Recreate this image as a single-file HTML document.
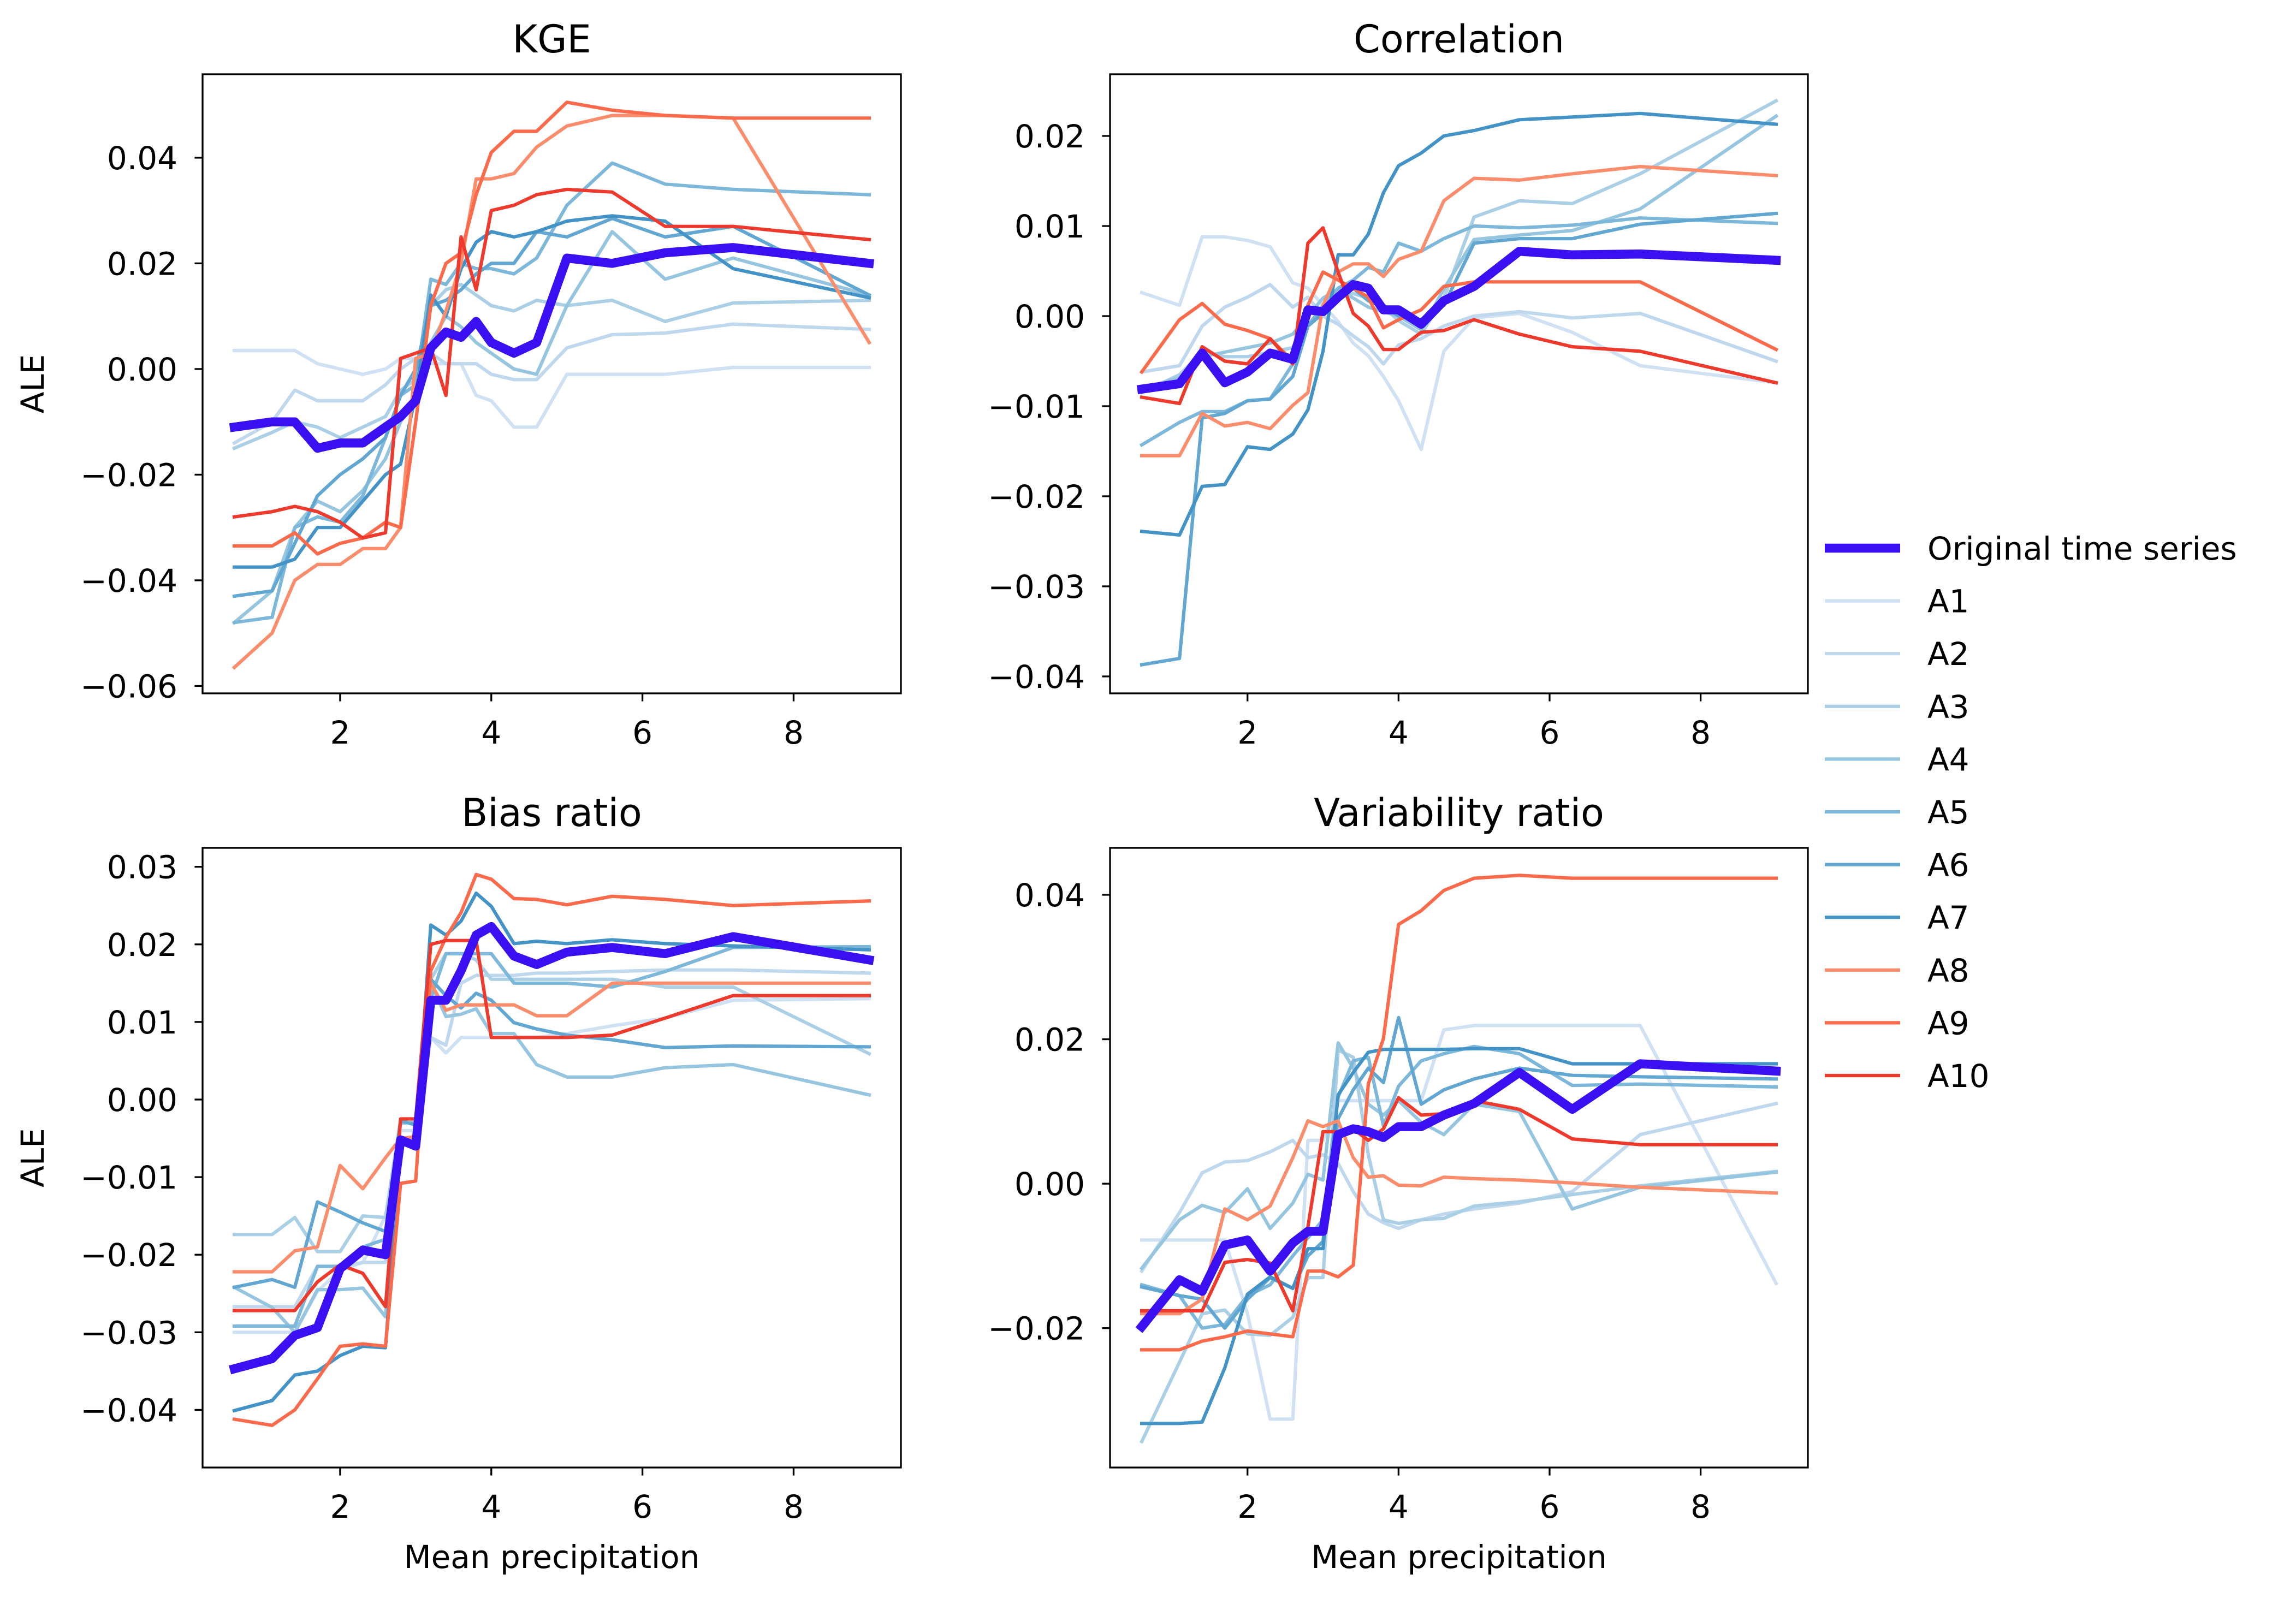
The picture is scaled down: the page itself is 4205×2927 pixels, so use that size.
<!DOCTYPE html>
<html><head><meta charset="utf-8">
<style>
html,body{margin:0;padding:0;background:#fff;}
svg{display:block;font-family:"DejaVu Sans","Liberation Sans",sans-serif;}
</style></head>
<body>
<svg id="fig" xmlns="http://www.w3.org/2000/svg" width="4205" height="2927" viewBox="0 0 4205 2927">
<rect width="4205" height="2927" fill="#fff"/>
</svg>
<script>
const X = [0.6,1.1,1.4,1.7,2.0,2.3,2.6,2.8,3.0,3.2,3.4,3.6,3.8,4.0,4.3,4.6,5.0,5.6,6.3,7.2,9.0];
const seriesNames = ["A1","A2","A3","A4","A5","A6","A7","A8","A9","A10"];
const xTicks = [2,4,6,8];

// KGE
const kgeOrig = [-0.011,-0.010,-0.010,-0.015,-0.014,-0.014,-0.011,-0.009,-0.006,0.004,0.007,0.006,0.009,0.005,0.003,0.005,0.021,0.020,0.022,0.023,0.020];
const kgeA1 = [0.0035,0.0035,0.0035,0.001,0.000,-0.001,0.000,0.002,0.002,0.001,0.001,0.001,-0.005,-0.006,-0.011,-0.011,-0.001,-0.001,-0.001,0.0003,0.0003];
const kgeA2 = [-0.014,-0.010,-0.004,-0.006,-0.006,-0.006,-0.003,0.000,0.002,0.003,0.001,0.001,0.001,-0.001,-0.002,-0.002,0.004,0.0065,0.0068,0.0085,0.0075];
const kgeA3 = [-0.015,-0.012,-0.010,-0.011,-0.013,-0.011,-0.009,-0.004,-0.002,0.012,0.015,0.016,0.014,0.012,0.011,0.013,0.012,0.013,0.009,0.0125,0.013];
const kgeA4 = [-0.048,-0.042,-0.030,-0.025,-0.027,-0.023,-0.017,-0.010,-0.005,0.005,0.010,0.008,0.005,0.003,0.000,-0.001,0.012,0.026,0.017,0.021,0.014];
const kgeA5 = [-0.048,-0.047,-0.030,-0.028,-0.029,-0.024,-0.013,-0.005,-0.003,0.017,0.016,0.020,0.019,0.019,0.018,0.021,0.031,0.039,0.035,0.034,0.033];
const kgeA6 = [-0.043,-0.042,-0.033,-0.024,-0.020,-0.017,-0.013,-0.005,0.000,0.012,0.013,0.015,0.018,0.020,0.020,0.026,0.025,0.0285,0.025,0.027,0.014];
const kgeA7 = [-0.0375,-0.0375,-0.036,-0.030,-0.030,-0.025,-0.020,-0.018,-0.005,0.014,0.010,0.019,0.024,0.026,0.025,0.026,0.028,0.029,0.028,0.019,0.0135];
const kgeA8 = [-0.0565,-0.050,-0.040,-0.037,-0.037,-0.034,-0.034,-0.030,0.002,0.003,0.011,0.020,0.036,0.036,0.037,0.042,0.046,0.048,0.048,0.0475,0.005];
const kgeA9 = [-0.0335,-0.0335,-0.031,-0.035,-0.033,-0.032,-0.029,-0.030,-0.010,0.012,0.020,0.022,0.033,0.041,0.045,0.045,0.0505,0.049,0.048,0.0475,0.0475];
const kgeA10 = [-0.028,-0.027,-0.026,-0.027,-0.029,-0.032,-0.031,0.002,0.003,0.004,-0.005,0.025,0.015,0.030,0.031,0.033,0.034,0.0335,0.027,0.027,0.0245];

// Correlation
const corOrig = [-0.0081,-0.0075,-0.0041,-0.0074,-0.0062,-0.0041,-0.0048,0.0007,0.0005,0.0021,0.0035,0.0031,0.0007,0.0007,-0.0009,0.0017,0.0033,0.0072,0.0068,0.0069,0.0062];
const corA1 = [0.0026,0.0012,0.0088,0.0088,0.0084,0.0077,0.0037,0.0031,0.0012,-0.0006,-0.003,-0.0044,-0.0067,-0.0094,-0.0148,-0.0039,-0.0002,0.0003,-0.0018,-0.0055,-0.0074];
const corA2 = [-0.0062,-0.0055,-0.0011,0.0010,0.0021,0.0035,0.0010,0.0021,0.0000,-0.0009,-0.0022,-0.0034,-0.0053,-0.0032,-0.0025,-0.0011,0.0,0.0005,-0.0002,0.0003,-0.005];
const corA3 = [-0.0085,-0.0065,-0.004,-0.0045,-0.0045,-0.004,-0.0035,-0.001,0.001,0.002,0.0025,0.002,0.001,-0.0005,-0.002,0.002,0.011,0.0128,0.0125,0.0158,0.0239];
const corA4 = [-0.0081,-0.0068,-0.0045,-0.004,-0.0035,-0.003,-0.002,0.0,0.002,0.003,0.002,0.001,0.0005,0.0,-0.0015,0.003,0.0085,0.009,0.0095,0.0119,0.0222];
const corA5 = [-0.0143,-0.0118,-0.0106,-0.0106,-0.0094,-0.0092,-0.0053,-0.0011,0.0012,0.0031,0.004,0.0054,0.0049,0.0081,0.0072,0.0086,0.01,0.0098,0.0101,0.0109,0.0103];
const corA6 = [-0.0387,-0.038,-0.0113,-0.0108,-0.0094,-0.0092,-0.0067,-0.0011,0.0003,0.0021,0.0031,0.0017,0.0012,0.0,-0.0004,0.0012,0.0081,0.0086,0.0086,0.0102,0.0114];
const corA7 = [-0.0239,-0.0243,-0.0189,-0.0187,-0.0145,-0.0148,-0.0131,-0.0104,-0.0039,0.0068,0.0068,0.0091,0.0137,0.0167,0.0181,0.020,0.0206,0.0218,0.0221,0.0225,0.0213];
const corA8 = [-0.0155,-0.0155,-0.0108,-0.0122,-0.0118,-0.0125,-0.0099,-0.0085,0.0012,0.0049,0.0058,0.0058,0.0044,0.0063,0.0072,0.0128,0.0153,0.0151,0.0158,0.0166,0.0156];
const corA9 = [-0.0062,-0.0004,0.0014,-0.0009,-0.0016,-0.0025,-0.005,0.0012,0.0049,0.004,0.0031,0.0021,-0.0013,-0.0004,0.0007,0.0033,0.0038,0.0038,0.0038,0.0038,-0.0037];
const corA10 = [-0.009,-0.0097,-0.0034,-0.005,-0.0053,-0.0025,-0.0053,0.0081,0.0098,0.0049,0.0003,-0.0011,-0.0037,-0.0037,-0.0018,-0.0016,-0.0004,-0.002,-0.0034,-0.0039,-0.0074];

// Bias ratio
const biaOrig = [-0.0347,-0.0334,-0.0304,-0.0294,-0.0218,-0.0194,-0.020,-0.0052,-0.006,0.0128,0.0128,0.0166,0.0212,0.0223,0.0185,0.0174,0.019,0.0196,0.0188,0.021,0.018];
const biaA1 = [-0.030,-0.030,-0.030,-0.0247,-0.022,-0.021,-0.015,-0.004,-0.004,0.008,0.006,0.008,0.008,0.008,0.008,0.008,0.0085,0.0095,0.0105,0.0128,0.013];
const biaA2 = [-0.0267,-0.0267,-0.0267,-0.0215,-0.0215,-0.0210,-0.0210,-0.005,-0.005,0.008,0.007,0.015,0.016,0.016,0.0160,0.0163,0.0163,0.0165,0.0167,0.0167,0.0163];
const biaA3 = [-0.0174,-0.0174,-0.0152,-0.0196,-0.0196,-0.015,-0.0152,-0.0025,-0.0025,0.0155,0.0188,0.0188,0.018,0.0155,0.0155,0.0155,0.0155,0.0155,0.0145,0.0145,0.0059];
const biaA4 = [-0.0242,-0.0268,-0.0300,-0.0245,-0.0245,-0.0243,-0.0280,-0.0052,-0.006,0.015,0.0107,0.011,0.0117,0.0085,0.0085,0.0045,0.0029,0.0029,0.0041,0.0045,0.0006];
const biaA5 = [-0.0292,-0.0292,-0.0292,-0.0215,-0.0215,-0.019,-0.018,-0.003,-0.003,0.013,0.0188,0.0188,0.0188,0.0188,0.015,0.015,0.015,0.0145,0.0165,0.0196,0.0197];
const biaA6 = [-0.0242,-0.0232,-0.0242,-0.0132,-0.0145,-0.0159,-0.017,-0.0027,-0.0033,0.0155,0.0134,0.0118,0.0137,0.0128,0.0099,0.0091,0.0083,0.0077,0.0067,0.0069,0.0068];
const biaA7 = [-0.0401,-0.0388,-0.0355,-0.035,-0.033,-0.0318,-0.032,-0.006,-0.0054,0.0225,0.0212,0.023,0.0266,0.0249,0.0201,0.0204,0.0201,0.0206,0.0201,0.0198,0.0193];
const biaA8 = [-0.0222,-0.0222,-0.0195,-0.019,-0.0085,-0.0115,-0.0075,-0.005,-0.0048,0.015,0.0115,0.0122,0.0122,0.0122,0.0122,0.0108,0.0108,0.015,0.015,0.015,0.015];
const biaA9 = [-0.0412,-0.042,-0.040,-0.036,-0.0318,-0.0315,-0.0318,-0.0108,-0.0105,0.0166,0.0209,0.0241,0.029,0.0284,0.0259,0.0258,0.0251,0.0262,0.0258,0.025,0.0256];
const biaA10 = [-0.0272,-0.0272,-0.0272,-0.0235,-0.0213,-0.0224,-0.0267,-0.0025,-0.0025,0.020,0.0205,0.0205,0.0205,0.008,0.008,0.008,0.008,0.0083,0.0105,0.0134,0.0134];

// Variability ratio
const varOrig = [-0.0198,-0.0133,-0.0149,-0.0085,-0.0078,-0.0121,-0.0082,-0.0066,-0.0066,0.0068,0.0076,0.0072,0.0064,0.0079,0.0079,0.0095,0.0111,0.0154,0.0103,0.0166,0.0156];
const varA1 = [-0.0078,-0.0078,-0.0078,-0.0078,-0.0180,-0.0326,-0.0326,0.0060,0.0060,0.0115,0.0115,0.0115,0.0115,0.0115,0.0115,0.0213,0.0219,0.0219,0.0219,0.0219,-0.0138];
const varA2 = [-0.0121,-0.004,0.0015,0.0030,0.0032,0.0044,0.006,0.0036,0.004,0.0028,-0.0011,-0.0042,-0.0054,-0.0062,-0.0050,-0.0042,-0.0035,-0.0027,-0.0011,0.0068,0.0111];
const varA3 = [-0.0357,-0.0247,-0.018,-0.0175,-0.0208,-0.021,-0.0185,-0.013,-0.013,0.0185,0.0175,0.004,-0.005,-0.0055,-0.005,-0.0048,-0.0031,-0.0025,-0.0015,-0.0003,0.0017];
const varA4 = [-0.0117,-0.005,-0.003,-0.004,-0.0007,-0.0062,-0.0027,0.0013,0.0005,0.0195,0.0160,0.0110,0.0095,0.0115,0.0085,0.0068,0.0110,0.0100,-0.0035,-0.0005,0.0016];
const varA5 = [-0.014,-0.0155,-0.0200,-0.0195,-0.0155,-0.0140,-0.0100,-0.0075,-0.0050,0.0120,0.0170,0.0175,0.0080,0.0135,0.0170,0.0180,0.0190,0.0180,0.0136,0.0138,0.0134];
const varA6 = [-0.0143,-0.0155,-0.0160,-0.0200,-0.0160,-0.0130,-0.0145,-0.0100,-0.0080,0.0090,0.0130,0.0160,0.0140,0.0230,0.0110,0.0130,0.0145,0.0160,0.0150,0.0148,0.0145];
const varA7 = [-0.0332,-0.0332,-0.0330,-0.0255,-0.0153,-0.0129,-0.0145,-0.009,-0.009,0.0123,0.0154,0.0182,0.0186,0.0186,0.0186,0.0186,0.0187,0.0187,0.0166,0.0166,0.0166];
const varA8 = [-0.018,-0.018,-0.016,-0.0035,-0.005,-0.0031,0.0036,0.0087,0.0079,0.0087,0.0036,0.0009,0.0011,-0.0002,-0.0003,0.0009,0.0007,0.0005,0.0001,-0.0005,-0.0013];
const varA9 = [-0.023,-0.023,-0.0218,-0.0212,-0.0204,-0.0208,-0.0212,-0.0121,-0.0121,-0.0129,-0.0113,0.0138,0.0201,0.0359,0.0378,0.0406,0.0423,0.0427,0.0423,0.0423,0.0423];
const varA10 = [-0.0176,-0.0176,-0.0176,-0.0109,-0.0105,-0.0110,-0.0176,-0.0060,0.0072,0.0072,0.0076,0.0060,0.0076,0.0119,0.0095,0.0097,0.0115,0.0103,0.0062,0.0054,0.0054];

const kgeTicks = [-0.06,-0.04,-0.02,0.00,0.02,0.04];
const corTicks = [-0.04,-0.03,-0.02,-0.01,0.00,0.01,0.02];
const biaTicks = [-0.04,-0.03,-0.02,-0.01,0.00,0.01,0.02,0.03];
const varTicks = [-0.02,0.00,0.02,0.04];

const colors = ["#cfe1f2","#bfd8ed","#abd0e6","#96c5e0","#7db8da","#61a7d2","#4493c7","#fc8d6c","#fb6b4b","#ee3a2c"];
const origColor = "#3a10f2";
const NS = "http://www.w3.org/2000/svg";
const svg = document.getElementById("fig");
const TICKFS = 58, TITLEFS = 70;

function mk(tag, attrs, parent){
  const e = document.createElementNS(NS, tag);
  for (const k in attrs) e.setAttribute(k, attrs[k]);
  (parent||svg).appendChild(e);
  return e;
}

const panels = [
  {key:"kge", title:"KGE", L:371, R:1650, T:136, B:1270, ymin:-0.0614, ymax:0.0558, ticks:kgeTicks, dec:2, orig:kgeOrig, s:[kgeA1,kgeA2,kgeA3,kgeA4,kgeA5,kgeA6,kgeA7,kgeA8,kgeA9,kgeA10], ylab:true, xlab:false},
  {key:"correlation", title:"Correlation", L:2033, R:3311, T:136, B:1270, ymin:-0.04188, ymax:0.02685, ticks:corTicks, dec:2, orig:corOrig, s:[corA1,corA2,corA3,corA4,corA5,corA6,corA7,corA8,corA9,corA10], ylab:false, xlab:false},
  {key:"bias-ratio", title:"Bias ratio", L:371, R:1650, T:1553, B:2688, ymin:-0.04743, ymax:0.03244, ticks:biaTicks, dec:2, orig:biaOrig, s:[biaA1,biaA2,biaA3,biaA4,biaA5,biaA6,biaA7,biaA8,biaA9,biaA10], ylab:true, xlab:true},
  {key:"variability-ratio", title:"Variability ratio", L:2033, R:3311, T:1553, B:2688, ymin:-0.0393, ymax:0.0465, ticks:varTicks, dec:2, orig:varOrig, s:[varA1,varA2,varA3,varA4,varA5,varA6,varA7,varA8,varA9,varA10], ylab:false, xlab:true}
];
const XMIN = 0.18, XMAX = 9.42;

panels.forEach((p, pi) => {
  const g = mk("g", {});
  
  
  const xs = v => p.L + (v - XMIN) / (XMAX - XMIN) * (p.R - p.L);
  const ys = v => p.B - (v - p.ymin) / (p.ymax - p.ymin) * (p.B - p.T);
  const cid = "clip" + pi;
  const cp = mk("clipPath", {id: cid}, g);
  mk("rect", {x:p.L, y:p.T, width:p.R-p.L, height:p.B-p.T}, cp);
  const lines = mk("g", {"clip-path": "url(#" + cid + ")"}, g);
  
  
  p.s.forEach((arr, i) => {
    const d = arr.map((v, j) => (j ? "L" : "M") + xs(X[j]).toFixed(1) + "," + ys(v).toFixed(1)).join("");
    const pl = mk("path", {d:d, fill:"none", stroke:colors[i], "stroke-width":6.2, "stroke-linejoin":"round", "stroke-linecap":"square"}, lines);
    
    
  });
  const d0 = p.orig.map((v, j) => (j ? "L" : "M") + xs(X[j]).toFixed(1) + "," + ys(v).toFixed(1)).join("");
  const po = mk("path", {d:d0, fill:"none", stroke:origColor, "stroke-width":16.5, "stroke-linejoin":"round", "stroke-linecap":"square"}, lines);
  
  

  const fr = mk("rect", {x:p.L, y:p.T, width:p.R-p.L, height:p.B-p.T, fill:"none", stroke:"#000", "stroke-width":3.3}, g);
  
  

  xTicks.forEach(t => {
    const x = xs(t);
    mk("line", {x1:x, x2:x, y1:p.B, y2:p.B+14.6, stroke:"#000", "stroke-width":3.3}, g);
    const tx = mk("text", {x:x, y:p.B+92, "font-size":TICKFS, "text-anchor":"middle", fill:"#000"}, g);
    tx.textContent = t;
    
    
  });
  p.ticks.forEach(t => {
    const y = ys(t);
    mk("line", {x1:p.L-14.6, x2:p.L, y1:y, y2:y, stroke:"#000", "stroke-width":3.3}, g);
    const tx = mk("text", {x:p.L-46 + (p.L>1000 ? 0 : 0), y:y+21, "font-size":TICKFS, "text-anchor":"end", fill:"#000"}, g);
    tx.textContent = (t < 0 ? "\u2212" : "") + Math.abs(t).toFixed(p.dec);
    
    
  });
  const ti = mk("text", {x:(p.L+p.R)/2, y:p.T-40, "font-size":TITLEFS, "text-anchor":"middle", fill:"#000"}, g);
  ti.textContent = p.title;
  
  
  if (p.ylab) {
    const cy = (p.T + p.B) / 2;
    const yl = mk("text", {x:0, y:0, "font-size":TICKFS, "text-anchor":"middle", fill:"#000", transform:"translate(80," + cy + ") rotate(-90)"}, g);
    yl.textContent = "ALE";
    
    
  }
  if (p.xlab) {
    const xl = mk("text", {x:(p.L+p.R)/2, y:2872, "font-size":TICKFS, "text-anchor":"middle", fill:"#000"}, g);
    xl.textContent = "Mean precipitation";
    
    
  }
});

// legend
const lg = mk("g", {});


const legLabels = ["Original time series"].concat(seriesNames);
const legColors = [origColor].concat(colors);
legLabels.forEach((lab, i) => {
  const y = 1004 + i * 96.6;
  const ent = mk("g", {}, lg);
  
  
  mk("line", {x1:3342, x2:3480, y1:y, y2:y, stroke:legColors[i], "stroke-width": i ? 6.2 : 16.5}, ent);
  const t = mk("text", {x:3530, y:y+21, "font-size":TICKFS, fill:"#000"}, ent);
  t.textContent = lab;
});
</script>
</body></html>
